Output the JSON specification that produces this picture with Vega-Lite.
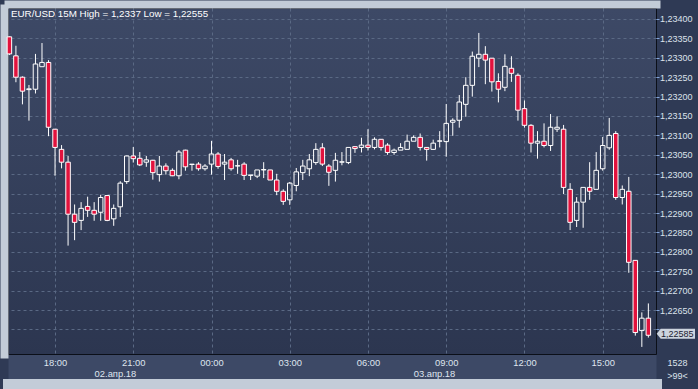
{
  "$schema": "https://vega.github.io/schema/vega-lite/v6.json",
  "width": 648,
  "height": 346,
  "autosize": {"type": "none"},
  "padding": {"left": 8, "top": 8, "right": 42, "bottom": 35},
  "background": "#2f3a55",
  "title": {"text": "EUR/USD 15M High = 1,2337 Low = 1,22555", "anchor": "start", "frame": "group", "offset": -12, "dx": 3, "dy": 11, "font": "Liberation Sans", "fontSize": 9.8, "fontWeight": "normal", "color": "#ffffff", "baseline": "alphabetic"},
  "config": {
    "locale": {"number": {"decimal": ",", "thousands": " ", "grouping": [3], "currency": ["", ""]}},
    "view": {"fill": {"gradient": "linear", "x1": 0, "y1": 0, "x2": 0, "y2": 1, "stops": [{"offset": 0, "color": "#3d4966"}, {"offset": 1, "color": "#2c3650"}]}, "stroke": "#0b0f18", "strokeWidth": 1},
    "axis": {"labelFont": "Liberation Sans", "titleFont": "Liberation Sans"}
  },
  "data": {"values": [
    {"t": "2018-04-02T16:15:00Z", "open": 1.23354, "high": 1.23355, "low": 1.23307, "close": 1.23310},
    {"t": "2018-04-02T16:30:00Z", "open": 1.23305, "high": 1.23331, "low": 1.23237, "close": 1.23250},
    {"t": "2018-04-02T16:45:00Z", "open": 1.23250, "high": 1.23252, "low": 1.23180, "close": 1.23214},
    {"t": "2018-04-02T17:00:00Z", "open": 1.23218, "high": 1.23230, "low": 1.23138, "close": 1.23220},
    {"t": "2018-04-02T17:15:00Z", "open": 1.23219, "high": 1.23310, "low": 1.23208, "close": 1.23284},
    {"t": "2018-04-02T17:30:00Z", "open": 1.23277, "high": 1.23338, "low": 1.23277, "close": 1.23288},
    {"t": "2018-04-02T17:45:00Z", "open": 1.23288, "high": 1.23294, "low": 1.23098, "close": 1.23121},
    {"t": "2018-04-02T18:00:00Z", "open": 1.23116, "high": 1.23116, "low": 1.22996, "close": 1.23069},
    {"t": "2018-04-02T18:15:00Z", "open": 1.23064, "high": 1.23075, "low": 1.23015, "close": 1.23031},
    {"t": "2018-04-02T18:30:00Z", "open": 1.23031, "high": 1.23047, "low": 1.22816, "close": 1.22897},
    {"t": "2018-04-02T18:45:00Z", "open": 1.22897, "high": 1.22922, "low": 1.22830, "close": 1.22876},
    {"t": "2018-04-02T19:00:00Z", "open": 1.22881, "high": 1.22928, "low": 1.22856, "close": 1.22912},
    {"t": "2018-04-02T19:15:00Z", "open": 1.22917, "high": 1.22942, "low": 1.22890, "close": 1.22907},
    {"t": "2018-04-02T19:30:00Z", "open": 1.22907, "high": 1.22928, "low": 1.22880, "close": 1.22897},
    {"t": "2018-04-02T19:45:00Z", "open": 1.22902, "high": 1.22947, "low": 1.22880, "close": 1.22940},
    {"t": "2018-04-02T20:00:00Z", "open": 1.22945, "high": 1.22946, "low": 1.22879, "close": 1.22881},
    {"t": "2018-04-02T20:15:00Z", "open": 1.22885, "high": 1.22922, "low": 1.22867, "close": 1.22912},
    {"t": "2018-04-02T20:30:00Z", "open": 1.22916, "high": 1.22982, "low": 1.22890, "close": 1.22977},
    {"t": "2018-04-02T20:45:00Z", "open": 1.22981, "high": 1.23048, "low": 1.22975, "close": 1.23047},
    {"t": "2018-04-02T21:00:00Z", "open": 1.23047, "high": 1.23070, "low": 1.23030, "close": 1.23040},
    {"t": "2018-04-02T21:15:00Z", "open": 1.23041, "high": 1.23057, "low": 1.23021, "close": 1.23024},
    {"t": "2018-04-02T21:30:00Z", "open": 1.23031, "high": 1.23047, "low": 1.23019, "close": 1.23037},
    {"t": "2018-04-02T21:45:00Z", "open": 1.23036, "high": 1.23037, "low": 1.22986, "close": 1.23004},
    {"t": "2018-04-02T22:00:00Z", "open": 1.22999, "high": 1.23047, "low": 1.22981, "close": 1.23021},
    {"t": "2018-04-02T22:15:00Z", "open": 1.23021, "high": 1.23028, "low": 1.22999, "close": 1.23009},
    {"t": "2018-04-02T22:30:00Z", "open": 1.23010, "high": 1.23015, "low": 1.22995, "close": 1.22996},
    {"t": "2018-04-02T22:45:00Z", "open": 1.22996, "high": 1.23062, "low": 1.22987, "close": 1.23057},
    {"t": "2018-04-02T23:00:00Z", "open": 1.23062, "high": 1.23063, "low": 1.23009, "close": 1.23019},
    {"t": "2018-04-02T23:15:00Z", "open": 1.23025, "high": 1.23026, "low": 1.23009, "close": 1.23026},
    {"t": "2018-04-02T23:30:00Z", "open": 1.23026, "high": 1.23031, "low": 1.23009, "close": 1.23014},
    {"t": "2018-04-02T23:45:00Z", "open": 1.23014, "high": 1.23026, "low": 1.23009, "close": 1.23021},
    {"t": "2018-04-03T00:00:00Z", "open": 1.23026, "high": 1.23086, "low": 1.22999, "close": 1.23052},
    {"t": "2018-04-03T00:15:00Z", "open": 1.23052, "high": 1.23057, "low": 1.23014, "close": 1.23020},
    {"t": "2018-04-03T00:30:00Z", "open": 1.23026, "high": 1.23052, "low": 1.22985, "close": 1.23031},
    {"t": "2018-04-03T00:45:00Z", "open": 1.23037, "high": 1.23042, "low": 1.23009, "close": 1.23014},
    {"t": "2018-04-03T01:00:00Z", "open": 1.23021, "high": 1.23037, "low": 1.23001, "close": 1.23022},
    {"t": "2018-04-03T01:15:00Z", "open": 1.23026, "high": 1.23031, "low": 1.22985, "close": 1.22997},
    {"t": "2018-04-03T01:30:00Z", "open": 1.22997, "high": 1.22998, "low": 1.22985, "close": 1.22998},
    {"t": "2018-04-03T01:45:00Z", "open": 1.22995, "high": 1.23011, "low": 1.22990, "close": 1.23011},
    {"t": "2018-04-03T02:00:00Z", "open": 1.23011, "high": 1.23031, "low": 1.22990, "close": 1.23012},
    {"t": "2018-04-03T02:15:00Z", "open": 1.23011, "high": 1.23011, "low": 1.22985, "close": 1.22985},
    {"t": "2018-04-03T02:30:00Z", "open": 1.22985, "high": 1.23001, "low": 1.22946, "close": 1.22956},
    {"t": "2018-04-03T02:45:00Z", "open": 1.22956, "high": 1.22961, "low": 1.22921, "close": 1.22930},
    {"t": "2018-04-03T03:00:00Z", "open": 1.22934, "high": 1.22980, "low": 1.22921, "close": 1.22977},
    {"t": "2018-04-03T03:15:00Z", "open": 1.22971, "high": 1.23016, "low": 1.22956, "close": 1.23006},
    {"t": "2018-04-03T03:30:00Z", "open": 1.23004, "high": 1.23037, "low": 1.22985, "close": 1.23021},
    {"t": "2018-04-03T03:45:00Z", "open": 1.23014, "high": 1.23052, "low": 1.22995, "close": 1.23037},
    {"t": "2018-04-03T04:00:00Z", "open": 1.23030, "high": 1.23080, "low": 1.23024, "close": 1.23064},
    {"t": "2018-04-03T04:15:00Z", "open": 1.23068, "high": 1.23080, "low": 1.23021, "close": 1.23026},
    {"t": "2018-04-03T04:30:00Z", "open": 1.23021, "high": 1.23026, "low": 1.22970, "close": 1.23005},
    {"t": "2018-04-03T04:45:00Z", "open": 1.23010, "high": 1.23055, "low": 1.22981, "close": 1.23036},
    {"t": "2018-04-03T05:00:00Z", "open": 1.23031, "high": 1.23057, "low": 1.23023, "close": 1.23032},
    {"t": "2018-04-03T05:15:00Z", "open": 1.23030, "high": 1.23069, "low": 1.23026, "close": 1.23069},
    {"t": "2018-04-03T05:30:00Z", "open": 1.23071, "high": 1.23071, "low": 1.23055, "close": 1.23066},
    {"t": "2018-04-03T05:45:00Z", "open": 1.23069, "high": 1.23094, "low": 1.23056, "close": 1.23075},
    {"t": "2018-04-03T06:00:00Z", "open": 1.23075, "high": 1.23116, "low": 1.23061, "close": 1.23069},
    {"t": "2018-04-03T06:15:00Z", "open": 1.23069, "high": 1.23095, "low": 1.23064, "close": 1.23090},
    {"t": "2018-04-03T06:30:00Z", "open": 1.23090, "high": 1.23090, "low": 1.23061, "close": 1.23069},
    {"t": "2018-04-03T06:45:00Z", "open": 1.23075, "high": 1.23080, "low": 1.23050, "close": 1.23056},
    {"t": "2018-04-03T07:00:00Z", "open": 1.23056, "high": 1.23066, "low": 1.23050, "close": 1.23062},
    {"t": "2018-04-03T07:15:00Z", "open": 1.23062, "high": 1.23080, "low": 1.23062, "close": 1.23069},
    {"t": "2018-04-03T07:30:00Z", "open": 1.23064, "high": 1.23102, "low": 1.23064, "close": 1.23085},
    {"t": "2018-04-03T07:45:00Z", "open": 1.23085, "high": 1.23100, "low": 1.23085, "close": 1.23095},
    {"t": "2018-04-03T08:00:00Z", "open": 1.23095, "high": 1.23105, "low": 1.23061, "close": 1.23069},
    {"t": "2018-04-03T08:15:00Z", "open": 1.23069, "high": 1.23069, "low": 1.23035, "close": 1.23064},
    {"t": "2018-04-03T08:30:00Z", "open": 1.23064, "high": 1.23089, "low": 1.23063, "close": 1.23080},
    {"t": "2018-04-03T08:45:00Z", "open": 1.23085, "high": 1.23111, "low": 1.23069, "close": 1.23086},
    {"t": "2018-04-03T09:00:00Z", "open": 1.23084, "high": 1.23181, "low": 1.23045, "close": 1.23131},
    {"t": "2018-04-03T09:15:00Z", "open": 1.23134, "high": 1.23144, "low": 1.23099, "close": 1.23139},
    {"t": "2018-04-03T09:30:00Z", "open": 1.23139, "high": 1.23204, "low": 1.23120, "close": 1.23186},
    {"t": "2018-04-03T09:45:00Z", "open": 1.23180, "high": 1.23250, "low": 1.23148, "close": 1.23229},
    {"t": "2018-04-03T10:00:00Z", "open": 1.23229, "high": 1.23316, "low": 1.23200, "close": 1.23304},
    {"t": "2018-04-03T10:15:00Z", "open": 1.23299, "high": 1.23364, "low": 1.23276, "close": 1.23309},
    {"t": "2018-04-03T10:30:00Z", "open": 1.23309, "high": 1.23330, "low": 1.23232, "close": 1.23294},
    {"t": "2018-04-03T10:45:00Z", "open": 1.23299, "high": 1.23299, "low": 1.23213, "close": 1.23238},
    {"t": "2018-04-03T11:00:00Z", "open": 1.23239, "high": 1.23260, "low": 1.23185, "close": 1.23219},
    {"t": "2018-04-03T11:15:00Z", "open": 1.23224, "high": 1.23309, "low": 1.23214, "close": 1.23278},
    {"t": "2018-04-03T11:30:00Z", "open": 1.23273, "high": 1.23304, "low": 1.23238, "close": 1.23260},
    {"t": "2018-04-03T11:45:00Z", "open": 1.23255, "high": 1.23260, "low": 1.23138, "close": 1.23165},
    {"t": "2018-04-03T12:00:00Z", "open": 1.23169, "high": 1.23190, "low": 1.23120, "close": 1.23126},
    {"t": "2018-04-03T12:15:00Z", "open": 1.23126, "high": 1.23129, "low": 1.23056, "close": 1.23080},
    {"t": "2018-04-03T12:30:00Z", "open": 1.23080, "high": 1.23111, "low": 1.23040, "close": 1.23085},
    {"t": "2018-04-03T12:45:00Z", "open": 1.23085, "high": 1.23131, "low": 1.23069, "close": 1.23074},
    {"t": "2018-04-03T13:00:00Z", "open": 1.23074, "high": 1.23155, "low": 1.23060, "close": 1.23121},
    {"t": "2018-04-03T13:15:00Z", "open": 1.23116, "high": 1.23149, "low": 1.23109, "close": 1.23121},
    {"t": "2018-04-03T13:30:00Z", "open": 1.23116, "high": 1.23127, "low": 1.22949, "close": 1.22966},
    {"t": "2018-04-03T13:45:00Z", "open": 1.22961, "high": 1.22977, "low": 1.22856, "close": 1.22876},
    {"t": "2018-04-03T14:00:00Z", "open": 1.22881, "high": 1.22941, "low": 1.22864, "close": 1.22928},
    {"t": "2018-04-03T14:15:00Z", "open": 1.22928, "high": 1.22966, "low": 1.22862, "close": 1.22966},
    {"t": "2018-04-03T14:30:00Z", "open": 1.22966, "high": 1.23031, "low": 1.22934, "close": 1.22956},
    {"t": "2018-04-03T14:45:00Z", "open": 1.22961, "high": 1.23057, "low": 1.22961, "close": 1.23010},
    {"t": "2018-04-03T15:00:00Z", "open": 1.23014, "high": 1.23096, "low": 1.23009, "close": 1.23074},
    {"t": "2018-04-03T15:15:00Z", "open": 1.23068, "high": 1.23145, "low": 1.23063, "close": 1.23100},
    {"t": "2018-04-03T15:30:00Z", "open": 1.23105, "high": 1.23111, "low": 1.22934, "close": 1.22940},
    {"t": "2018-04-03T15:45:00Z", "open": 1.22940, "high": 1.22971, "low": 1.22922, "close": 1.22961},
    {"t": "2018-04-03T16:00:00Z", "open": 1.22956, "high": 1.22993, "low": 1.22746, "close": 1.22773},
    {"t": "2018-04-03T16:15:00Z", "open": 1.22778, "high": 1.22778, "low": 1.22584, "close": 1.22592},
    {"t": "2018-04-03T16:30:00Z", "open": 1.22597, "high": 1.22644, "low": 1.22555, "close": 1.22629},
    {"t": "2018-04-03T16:45:00Z", "open": 1.22629, "high": 1.22667, "low": 1.22579, "close": 1.22585}
  ]},
  "resolve": {"axis": {"x": "independent", "y": "independent"}},
  "layer": [
    {
      "mark": {"type": "rule", "color": "#ffffff", "strokeWidth": 1},
      "encoding": {
        "x": {"field": "t", "type": "temporal", "scale": {"type": "utc", "padding": 0, "domain": [{"year": 2018, "month": 4, "date": 2, "hours": 16, "minutes": 11, "seconds": 47, "utc": true}, {"year": 2018, "month": 4, "date": 3, "hours": 17, "minutes": 2, "seconds": 36, "utc": true}]},
          "axis": {"orient": "bottom", "offset": 12.5, "domainWidth": 24, "domainColor": "#3d4966", "labels": false, "ticks": false, "grid": false, "title": null}},
        "y": {"field": "high", "type": "quantitative", "scale": {"domain": [1.225367, 1.234283], "zero": false, "nice": false},
          "axis": {"orient": "left", "offset": 4, "domainWidth": 8, "domainColor": "#c3ccd8", "domainCap": "square", "labels": false, "ticks": false, "grid": false, "title": null}},
        "y2": {"field": "close"}
      }
    },
    {
      "mark": {"type": "rule", "color": "#ffffff", "strokeWidth": 1},
      "encoding": {
        "x": {"field": "t", "type": "temporal", "scale": {"type": "utc", "padding": 0, "domain": [{"year": 2018, "month": 4, "date": 2, "hours": 16, "minutes": 11, "seconds": 47, "utc": true}, {"year": 2018, "month": 4, "date": 3, "hours": 17, "minutes": 2, "seconds": 36, "utc": true}]},
          "axis": {"orient": "top", "offset": 4, "domainWidth": 8, "domainColor": "#c3ccd8", "domainCap": "square", "labels": false, "ticks": false, "grid": false, "title": null}},
        "y": {"field": "open", "type": "quantitative", "scale": {"domain": [1.225367, 1.234283], "zero": false, "nice": false}, "axis": null},
        "y2": {"field": "low"}
      }
    },
    {
      "mark": {"type": "bar", "width": 4.5, "stroke": "#ffffff", "strokeWidth": 1},
      "encoding": {
        "x": {"field": "t", "type": "temporal", "scale": {"type": "utc", "padding": 0, "domain": [{"year": 2018, "month": 4, "date": 2, "hours": 16, "minutes": 11, "seconds": 47, "utc": true}, {"year": 2018, "month": 4, "date": 3, "hours": 17, "minutes": 2, "seconds": 36, "utc": true}]},
          "axis": {"orient": "bottom", "offset": 30, "domainWidth": 11, "domainColor": "#c3ccd8", "domainCap": "square", "labels": false, "ticks": false, "grid": false, "title": null}},
        "y": {"field": "open", "type": "quantitative", "scale": {"domain": [1.225367, 1.234283], "zero": false, "nice": false}, "axis": null},
        "y2": {"field": "close"},
        "fill": {"condition": {"test": "datum.close < datum.open", "value": "#e2123d"}, "value": "transparent"}
      }
    },
    {
      "data": {"values": [{"t": "2018-04-03T16:45:00Z", "price": 1.22585}]},
      "mark": {"type": "point", "shape": "M-1,0L-0.79,-0.261L1,-0.261L1,0.261L-0.79,0.261Z", "size": 1467, "filled": true, "color": "#cdd4de", "opacity": 1, "xOffset": 27.5, "yOffset": -1.5},
      "encoding": {
        "x": {"field": "t", "type": "temporal", "scale": {"type": "utc", "padding": 0, "domain": [{"year": 2018, "month": 4, "date": 2, "hours": 16, "minutes": 11, "seconds": 47, "utc": true}, {"year": 2018, "month": 4, "date": 3, "hours": 17, "minutes": 2, "seconds": 36, "utc": true}]},
          "axis": {"orient": "bottom", "offset": 0,
            "values": [
              {"year": 2018, "month": 4, "date": 2, "hours": 18, "utc": true},
              {"year": 2018, "month": 4, "date": 2, "hours": 21, "utc": true},
              {"year": 2018, "month": 4, "date": 3, "hours": 0, "utc": true},
              {"year": 2018, "month": 4, "date": 3, "hours": 3, "utc": true},
              {"year": 2018, "month": 4, "date": 3, "hours": 6, "utc": true},
              {"year": 2018, "month": 4, "date": 3, "hours": 9, "utc": true},
              {"year": 2018, "month": 4, "date": 3, "hours": 12, "utc": true},
              {"year": 2018, "month": 4, "date": 3, "hours": 15, "utc": true},
              {"year": 2018, "month": 4, "date": 2, "hours": 20, "minutes": 17, "seconds": 43, "utc": true},
              {"year": 2018, "month": 4, "date": 3, "hours": 8, "minutes": 31, "seconds": 51, "utc": true}
            ],
            "labelExpr": "utcminutes(datum.value) != 0 ? ['', utcdate(datum.value) == 2 ? '02.апр.18' : '03.апр.18'] : utcFormat(datum.value, '%H:%M')",
            "labelOverlap": false, "labelFlush": false, "labelColor": "#dfe5ef", "labelFontSize": 9.4, "labelBaseline": "top", "labelPadding": 4.5, "labelLineHeight": 11,
            "ticks": false, "tickSize": 0, "domain": false,
            "grid": true, "gridColor": "#5a6984", "gridDash": [3, 3], "gridWidth": 1,
            "gridOpacity": {"condition": {"test": "utcminutes(datum.value) != 0", "value": 0}, "value": 1},
            "title": null}},
        "y": {"field": "price", "type": "quantitative", "scale": {"domain": [1.225367, 1.234283], "zero": false, "nice": false},
          "axis": {"orient": "right", "values": [1.226, 1.2265, 1.227, 1.2275, 1.228, 1.2285, 1.229, 1.2295, 1.23, 1.2305, 1.231, 1.2315, 1.232, 1.2325, 1.233, 1.2335, 1.234],
            "labelExpr": "datum.value < 1.2262 ? '' : datum.label",
            "format": ".5f", "labelColor": "#dce2ec", "labelFontSize": 9, "labelPadding": 0.5, "labelBaseline": "middle", "labelFlush": false, "labelOverlap": false,
            "tickColor": "#84a6dc", "tickSize": 3, "domain": false,
            "grid": true, "gridColor": "#5a6984", "gridDash": [3, 3], "gridWidth": 1,
            "title": ["1528", ">99<"], "titleAngle": 0, "titleX": 21, "titleY": 357, "titleAlign": "center", "titleBaseline": "alphabetic", "titleFontSize": 9, "titleFontWeight": "normal", "titleColor": "#dce2ec", "titleLineHeight": 13}}
      }
    },
    {
      "data": {"values": [{"t": "2018-04-03T16:45:00Z", "price": 1.22585}]},
      "mark": {"type": "text", "xOffset": 29, "yOffset": -1.5, "font": "Liberation Sans", "fontSize": 9, "color": "#1a2130", "align": "center", "baseline": "middle"},
      "encoding": {
        "x": {"field": "t", "type": "temporal", "scale": {"type": "utc", "padding": 0, "domain": [{"year": 2018, "month": 4, "date": 2, "hours": 16, "minutes": 11, "seconds": 47, "utc": true}, {"year": 2018, "month": 4, "date": 3, "hours": 17, "minutes": 2, "seconds": 36, "utc": true}]}, "axis": null},
        "y": {"field": "price", "type": "quantitative", "scale": {"domain": [1.225367, 1.234283], "zero": false, "nice": false}, "axis": null},
        "text": {"field": "price", "type": "quantitative", "format": ".5f"}
      }
    }
  ]
}
